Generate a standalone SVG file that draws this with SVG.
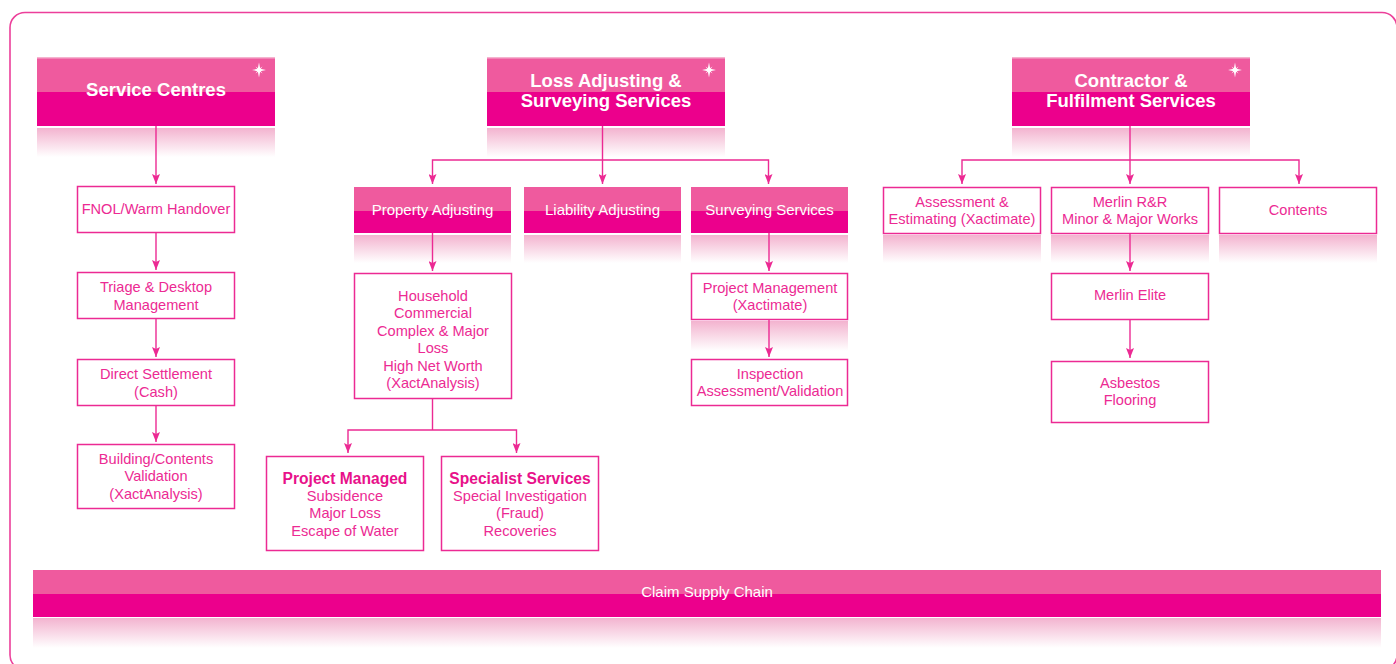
<svg xmlns="http://www.w3.org/2000/svg" width="1396" height="664" viewBox="0 0 1396 664">
<defs>
<linearGradient id="refl" x1="0" y1="0" x2="0" y2="1">
<stop offset="0" stop-color="#f3b3cf"/>
<stop offset="1" stop-color="#ffffff"/>
</linearGradient>
<marker id="arr" markerUnits="userSpaceOnUse" markerWidth="8" markerHeight="10" refX="4" refY="10" orient="0" viewBox="0 0 8 10">
<path d="M0,0 L4,2 L8,0 L4,10 Z" fill="#ec2a93"/>
</marker>
<path id="star" d="M0,-7.5 L1.2,-1.2 L7,0 L1.2,1.2 L0,7.5 L-1.2,1.2 L-7,0 L-1.2,-1.2 Z M-3.5,-3.5 L0,-1 L3.5,-3.5 L1,0 L3.5,3.5 L0,1 L-3.5,3.5 L-1,0 Z"/>
</defs>
<style>
.lt{fill:#ef5a9e}
.dk{fill:#ec008c}
.strip{fill:#f5b3cf}
.rf{fill:url(#refl)}
.box{fill:#fff;stroke:#ec2a93;stroke-width:1.5}
.hd{font-family:"Liberation Sans",Arial,sans-serif;font-weight:bold;font-size:18.5px;fill:#fff;text-anchor:middle}
.sh{font-family:"Liberation Sans",Arial,sans-serif;font-size:15px;fill:#fff;text-anchor:middle}
.tx{font-family:"Liberation Sans",Arial,sans-serif;font-size:14.6px;fill:#ec2a93;text-anchor:middle}
.bd{font-weight:bold;font-size:15.6px;fill:#e8118a}
.cn{fill:none;stroke:#ec2a93;stroke-width:1.4}
.star{fill:#fff}
</style>
<rect x="10" y="12.5" width="1387" height="657.5" rx="15" fill="none" stroke="#ec3f9a" stroke-width="1.6"/>

<g id="service-centres">
<rect class="rf" x="37" y="128" width="238" height="29"/>
<rect class="strip" x="37" y="57" width="238" height="2"/>
<rect class="lt" x="37" y="58.5" width="238" height="34"/>
<rect class="dk" x="37" y="92" width="238" height="34"/>
<use href="#star" class="star" x="259" y="70"/>
<text class="hd" x="156" y="96">Service Centres</text>
</g>
<g id="loss-adjusting">
<rect class="rf" x="487" y="128" width="238" height="29"/>
<rect class="strip" x="487" y="57" width="238" height="2"/>
<rect class="lt" x="487" y="58.5" width="238" height="34"/>
<rect class="dk" x="487" y="92" width="238" height="34"/>
<use href="#star" class="star" x="709" y="70"/>
<text class="hd" x="606" y="87">Loss Adjusting &amp;</text>
<text class="hd" x="606" y="107">Surveying Services</text>
</g>
<g id="contractor">
<rect class="rf" x="1012" y="128" width="238" height="29"/>
<rect class="strip" x="1012" y="57" width="238" height="2"/>
<rect class="lt" x="1012" y="58.5" width="238" height="34"/>
<rect class="dk" x="1012" y="92" width="238" height="34"/>
<use href="#star" class="star" x="1235" y="70"/>
<text class="hd" x="1131" y="87">Contractor &amp;</text>
<text class="hd" x="1131" y="107">Fulfilment Services</text>
</g>

<g id="property-adjusting">
<rect class="rf" x="354" y="235" width="157" height="28"/>
<rect class="lt" x="354" y="187" width="157" height="24"/>
<rect class="dk" x="354" y="211" width="157" height="22"/>
<text class="sh" x="432.5" y="215">Property Adjusting</text>
</g>
<g id="liability-adjusting">
<rect class="rf" x="524" y="235" width="157" height="28"/>
<rect class="lt" x="524" y="187" width="157" height="24"/>
<rect class="dk" x="524" y="211" width="157" height="22"/>
<text class="sh" x="602.5" y="215">Liability Adjusting</text>
</g>
<g id="surveying-services">
<rect class="rf" x="691" y="235" width="157" height="28"/>
<rect class="lt" x="691" y="187" width="157" height="24"/>
<rect class="dk" x="691" y="211" width="157" height="22"/>
<text class="sh" x="769.5" y="215">Surveying Services</text>
</g>

<g id="fnol">
<rect class="box" x="77.5" y="186.5" width="157" height="46"/>
<text class="tx" x="156" y="214">FNOL/Warm Handover</text>
</g>
<g id="triage">
<rect class="box" x="77.5" y="272.5" width="157" height="46"/>
<text class="tx" x="156" y="292">Triage &amp; Desktop</text>
<text class="tx" x="156" y="309.5">Management</text>
</g>
<g id="direct-settlement">
<rect class="box" x="77.5" y="359.5" width="157" height="46"/>
<text class="tx" x="156" y="379">Direct Settlement</text>
<text class="tx" x="156" y="396.5">(Cash)</text>
</g>
<g id="building-contents">
<rect class="box" x="77.5" y="444.5" width="157" height="64"/>
<text class="tx" x="156" y="463.5">Building/Contents</text>
<text class="tx" x="156" y="481">Validation</text>
<text class="tx" x="156" y="498.5">(XactAnalysis)</text>
</g>

<g id="household">
<rect class="box" x="354.5" y="273.5" width="157" height="125"/>
<text class="tx" x="433" y="300.5">Household</text>
<text class="tx" x="433" y="318">Commercial</text>
<text class="tx" x="433" y="335.5">Complex &amp; Major</text>
<text class="tx" x="433" y="353">Loss</text>
<text class="tx" x="433" y="370.5">High Net Worth</text>
<text class="tx" x="433" y="388">(XactAnalysis)</text>
</g>
<g id="project-managed">
<rect class="box" x="266.5" y="456.5" width="157" height="94"/>
<text class="tx bd" x="345" y="484">Project Managed</text>
<text class="tx" x="345" y="500.5">Subsidence</text>
<text class="tx" x="345" y="518">Major Loss</text>
<text class="tx" x="345" y="535.5">Escape of Water</text>
</g>
<g id="specialist-services">
<rect class="box" x="441.5" y="456.5" width="157" height="94"/>
<text class="tx bd" x="520" y="484">Specialist Services</text>
<text class="tx" x="520" y="500.5">Special Investigation</text>
<text class="tx" x="520" y="518">(Fraud)</text>
<text class="tx" x="520" y="535.5">Recoveries</text>
</g>

<g id="project-management">
<rect class="rf" x="691" y="321" width="157" height="30"/>
<rect class="box" x="691.5" y="273.5" width="156" height="46"/>
<text class="tx" x="770" y="293">Project Management</text>
<text class="tx" x="770" y="310">(Xactimate)</text>
</g>
<g id="inspection">
<rect class="box" x="691.5" y="359.5" width="156" height="46"/>
<text class="tx" x="770" y="378.5">Inspection</text>
<text class="tx" x="770" y="396">Assessment/Validation</text>
</g>

<g id="assessment">
<rect class="rf" x="883" y="235" width="158" height="28"/>
<rect class="box" x="883.5" y="187.5" width="157" height="46"/>
<text class="tx" x="962" y="207">Assessment &amp;</text>
<text class="tx" x="962" y="224">Estimating (Xactimate)</text>
</g>
<g id="merlin-rr">
<rect class="rf" x="1051" y="235" width="158" height="28"/>
<rect class="box" x="1051.5" y="187.5" width="157" height="46"/>
<text class="tx" x="1130" y="207">Merlin R&amp;R</text>
<text class="tx" x="1130" y="224">Minor &amp; Major Works</text>
</g>
<g id="contents">
<rect class="rf" x="1219" y="235" width="158" height="28"/>
<rect class="box" x="1219.5" y="187.5" width="157" height="46"/>
<text class="tx" x="1298" y="215">Contents</text>
</g>
<g id="merlin-elite">
<rect class="box" x="1051.5" y="273.5" width="157" height="46"/>
<text class="tx" x="1130" y="300">Merlin Elite</text>
</g>
<g id="asbestos">
<rect class="box" x="1051.5" y="361.5" width="157" height="61"/>
<text class="tx" x="1130" y="388">Asbestos</text>
<text class="tx" x="1130" y="405">Flooring</text>
</g>

<g id="claim-supply-chain">
<rect class="rf" x="33" y="618" width="1348" height="30"/>
<rect class="lt" x="33" y="570" width="1348" height="24"/>
<rect class="dk" x="33" y="594" width="1348" height="23"/>
<text class="sh" x="707" y="597" font-size="14">Claim Supply Chain</text>
</g>

<g id="connectors">
<path class="cn" d="M156,126 V184" marker-end="url(#arr)"/>
<path class="cn" d="M156,233 V270" marker-end="url(#arr)"/>
<path class="cn" d="M156,319 V357" marker-end="url(#arr)"/>
<path class="cn" d="M156,406 V442" marker-end="url(#arr)"/>
<path class="cn" d="M602.5,126 V160"/>
<path class="cn" d="M432.5,184 V160 H768.5 V184" marker-start="url(#arr)" marker-end="url(#arr)"/>
<path class="cn" d="M602.5,160 V184" marker-end="url(#arr)"/>
<path class="cn" d="M432.5,233 V271" marker-end="url(#arr)"/>
<path class="cn" d="M432.5,398 V430"/>
<path class="cn" d="M348,453 V430 H516.5 V453" marker-start="url(#arr)" marker-end="url(#arr)"/>
<path class="cn" d="M769,233 V271" marker-end="url(#arr)"/>
<path class="cn" d="M769,320 V357" marker-end="url(#arr)"/>
<path class="cn" d="M1130,126 V160"/>
<path class="cn" d="M962,184 V160 H1299 V184" marker-start="url(#arr)" marker-end="url(#arr)"/>
<path class="cn" d="M1130,160 V184" marker-end="url(#arr)"/>
<path class="cn" d="M1130,233 V271" marker-end="url(#arr)"/>
<path class="cn" d="M1130,320 V358" marker-end="url(#arr)"/>
</g>
</svg>
